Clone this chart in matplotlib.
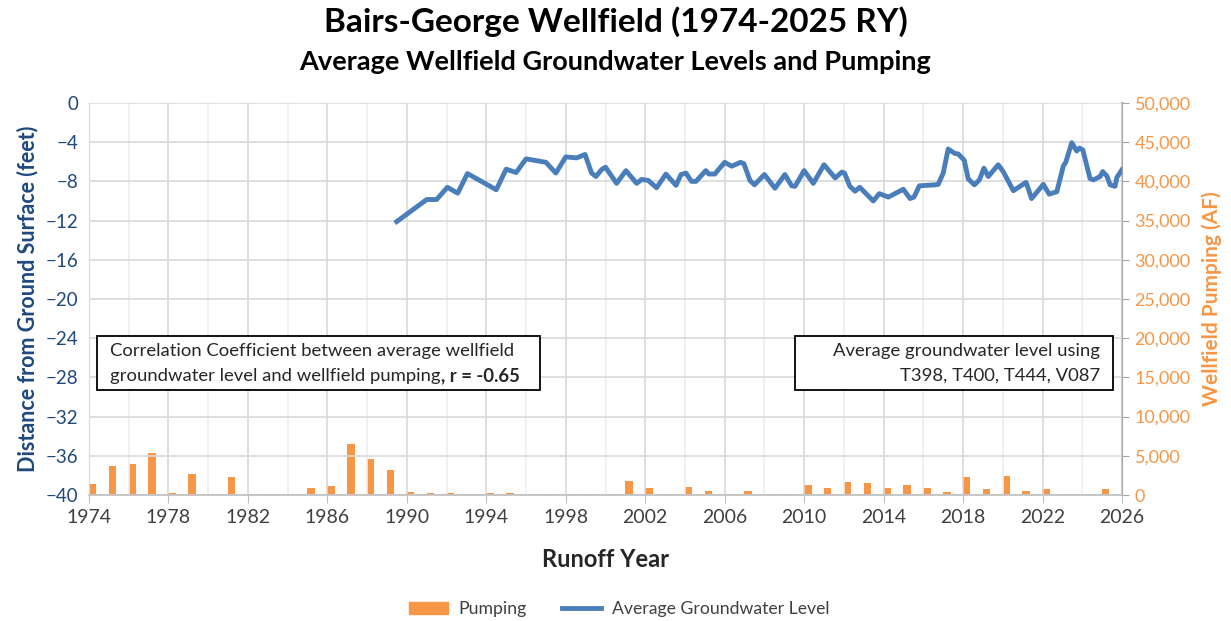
import numpy as np
import matplotlib
matplotlib.use("Agg")
import matplotlib.pyplot as plt
from matplotlib.patches import Rectangle, Patch
from matplotlib.lines import Line2D
from matplotlib.ticker import FuncFormatter, MultipleLocator

plt.rcParams['font.family'] = ['Lato', 'DejaVu Sans']

# pumping per runoff year (AF)
pump_year = list(range(1974, 2026))
pump_af = [1400, 3700, 3900, 5300, 200, 2640, 100, 2300, 100, 100,
           100, 850, 1150, 6460, 4600, 3230, 340, 200, 200, 100,
           200, 200, 0, 100, 100, 100, 100, 1790, 940, 100,
           1060, 510, 0, 510, 100, 100, 1280, 940, 1620, 1490,
           850, 1280, 940, 340, 2340, 720, 2420, 510, 720, 0,
           100, 720]

# average groundwater level (ft below ground surface)
gw_year = [1989.49, 1991.0, 1991.5, 1992.04, 1992.56, 1993.05, 1994.5, 1995.0,
           1995.5, 1996.0, 1997.0, 1997.5, 1998.0, 1998.55, 1998.97, 1999.3,
           1999.52, 1999.8, 2000.0, 2000.56, 2001.03, 2001.57, 2001.82, 2002.15,
           2002.57, 2003.04, 2003.55, 2003.8, 2004.05, 2004.33, 2004.55, 2005.05,
           2005.2, 2005.5, 2006.0, 2006.35, 2006.8, 2006.97, 2007.27, 2007.5,
           2008.0, 2008.53, 2009.03, 2009.37, 2009.54, 2010.0, 2010.46, 2011.0,
           2011.56, 2011.9, 2012.03, 2012.3, 2012.56, 2012.8, 2013.48, 2013.78,
           2014.24, 2014.99, 2015.33, 2015.53, 2015.8, 2016.59, 2016.75, 2017.0,
           2017.25, 2017.59, 2017.76, 2018.06, 2018.26, 2018.57, 2018.82, 2019.05,
           2019.27, 2019.77, 2020.02, 2020.53, 2021.17, 2021.45, 2022.04, 2022.33,
           2022.72, 2023.05, 2023.17, 2023.47, 2023.72, 2023.86, 2024.03, 2024.39,
           2024.56, 2024.9, 2025.03, 2025.24, 2025.4, 2025.65, 2025.74, 2026.0]
gw_level = [-12.1, -9.85, -9.85, -8.6, -9.2, -7.2, -8.85, -6.75,
            -7.1, -5.7, -6.05, -7.15, -5.5, -5.6, -5.25, -7.15,
            -7.5, -6.8, -6.55, -8.2, -6.9, -8.2, -7.8, -7.9,
            -8.65, -7.25, -8.4, -7.3, -7.15, -8.0, -8.0, -6.9,
            -7.25, -7.25, -6.05, -6.45, -6.05, -6.2, -7.9, -8.35,
            -7.3, -8.7, -7.3, -8.45, -8.5, -6.9, -8.2, -6.3,
            -7.65, -7.05, -7.15, -8.5, -9.0, -8.6, -10.0, -9.25,
            -9.6, -8.8, -9.75, -9.6, -8.45, -8.35, -8.3, -7.15,
            -4.7, -5.15, -5.2, -5.85, -7.75, -8.35, -7.85, -6.65,
            -7.5, -6.3, -7.0, -8.95, -8.1, -9.75, -8.3, -9.3,
            -9.05, -6.4, -6.05, -4.05, -4.9, -4.6, -4.8, -7.7,
            -7.85, -7.5, -7.0, -7.45, -8.35, -8.5, -7.6, -6.8]

blue = '#4a7ebb'
orange = '#f79646'
dark_blue = '#1f497d'
grid_c = '#d9d9d9'

fig = plt.figure(figsize=(12.31, 6.21), dpi=100)
ax = fig.add_axes([89/1231, 1-495/621, 1033/1231, 392/621])
ax2 = ax.twinx()

ax.set_xlim(1974, 2026)
ax.set_ylim(-40, 0)
ax2.set_ylim(0, 50000)

# grid
ax.xaxis.set_major_locator(MultipleLocator(4))
ax.xaxis.set_minor_locator(MultipleLocator(2))
ax.yaxis.set_major_locator(MultipleLocator(4))
ax.grid(which='major', axis='both', color=grid_c, lw=1.2, zorder=0)
ax.grid(which='minor', axis='x', color='#eeeeee', lw=1.2, zorder=0)
ax.set_axisbelow(True)

ax2.bar(np.array(pump_year) + 0.18, pump_af, width=0.38, color=orange, zorder=2)
ax2.set_zorder(1)
ax.set_zorder(2)
ax.patch.set_visible(False)
ax.plot(gw_year, gw_level, color=blue, lw=3.5, solid_joinstyle='round', zorder=3)

for s in ['top']:
    ax.spines[s].set_visible(False)
    ax2.spines[s].set_visible(False)
ax.spines['left'].set_color(grid_c)
ax.spines['bottom'].set_color('#bfbfbf')
ax.spines['bottom'].set_linewidth(1.2)
ax.spines['right'].set_visible(False)
ax2.spines['left'].set_visible(False)
ax2.spines['bottom'].set_visible(False)
ax2.spines['right'].set_color('#a6a6a6')
ax2.spines['right'].set_linewidth(1.5)

ax.tick_params(axis='y', length=0, labelsize=13.5, colors=dark_blue, pad=8)
ax.tick_params(axis='x', which='major', length=6, color='#bfbfbf', labelsize=14,
               labelcolor='#404040', direction='out', pad=4)
ax.tick_params(axis='x', which='minor', length=0)
ax2.tick_params(axis='y', length=5, color='#a6a6a6', labelsize=13,
                labelcolor=orange, direction='out', pad=4)
ax2.yaxis.set_major_locator(MultipleLocator(5000))
ax2.yaxis.set_major_formatter(FuncFormatter(lambda v, p: f'{int(v):,}'))
ax.set_xticks(range(1974, 2027, 4))

ax.set_ylabel('Distance from Ground Surface (feet)', fontsize=15.5, fontweight='bold',
              color=dark_blue, labelpad=5)
ax2.set_ylabel('Wellfield Pumping (AF)', fontsize=15, fontweight='bold',
               color=orange, labelpad=8)
ax.set_xlabel('Runoff Year', fontsize=17, fontweight='bold', color='#262626', labelpad=16)

fig.text(0.5, 1-22/621, 'Bairs-George Wellfield (1974-2025 RY)', ha='center', va='center',
         fontsize=24, fontweight='bold', color='black')
fig.text(0.5, 1-62/621, 'Average Wellfield Groundwater Levels and Pumping', ha='center',
         va='center', fontsize=19.5, fontweight='bold', color='black')

# annotation boxes
W, H = 1231, 621
def box(x0, y0, x1, y1):
    fig.patches.append(Rectangle((x0/W, 1-y1/H), (x1-x0)/W, (y1-y0)/H,
                                 transform=fig.transFigure, fill=True, fc='white',
                                 ec='black', lw=1.3, zorder=5))

box(97, 336, 540, 390)
box(795, 336, 1113, 390)

fs_box = 13.3
fig.text(110/W, 1-351/H, 'Correlation Coefficient between average wellfield',
         fontsize=fs_box, va='center', color='#262626', zorder=6)
t = fig.text(110/W, 1-376/H, 'groundwater level and wellfield pumping',
             fontsize=fs_box, va='center', color='#262626', zorder=6)
fig.canvas.draw()
bb = t.get_window_extent(fig.canvas.get_renderer())
fig.text(bb.x1/W, 1-376/H, ', r = -0.65', fontsize=fs_box, va='center',
         fontweight='bold', color='#262626', zorder=6)

fig.text(1100/W, 1-351/H, 'Average groundwater level using', fontsize=fs_box,
         ha='right', va='center', color='#262626', zorder=6)
fig.text(1100/W, 1-376/H, 'T398, T400, T444, V087', fontsize=fs_box,
         ha='right', va='center', color='#262626', zorder=6)

handles = [Patch(color=orange, label='Pumping'),
           Line2D([0], [0], color=blue, lw=3.5, label='Average Groundwater Level')]
fig.legend(handles=handles, loc='center', bbox_to_anchor=(0.503, 1-609/621), ncol=2,
           frameon=False, fontsize=12.7, handlelength=2.2, handleheight=0.7,
           handletextpad=0.6, columnspacing=2.0, labelcolor='#404040')

fig.savefig('out.png', dpi=100)
